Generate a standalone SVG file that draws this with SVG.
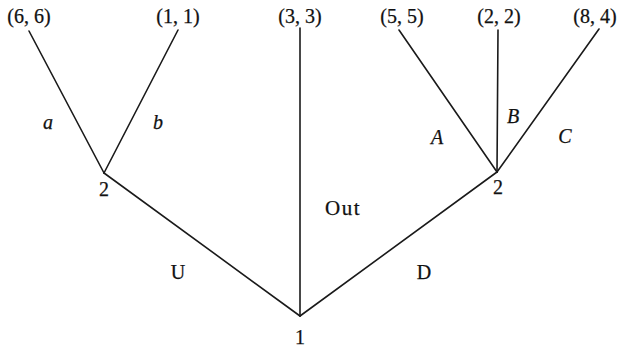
<svg xmlns="http://www.w3.org/2000/svg" width="621" height="355" viewBox="0 0 621 355">
<style>
.e{stroke:#1a1a1a;stroke-width:1.6;fill:none;stroke-linecap:round}
.t{font-family:"Liberation Serif","DejaVu Serif",serif;font-size:20px;fill:#111;text-anchor:middle;stroke:#111;stroke-width:0.25}
.i{font-style:italic}
</style>
<rect width="621" height="355" fill="#fff"/>
<g id="connectors">
<line class="e" x1="300" y1="316" x2="104" y2="173"/>
<line class="e" x1="300" y1="316" x2="300" y2="28"/>
<line class="e" x1="300" y1="316" x2="497" y2="172"/>
<line class="e" x1="104" y1="173" x2="29" y2="31"/>
<line class="e" x1="104" y1="173" x2="178" y2="30"/>
<line class="e" x1="497" y1="172" x2="399" y2="30"/>
<line class="e" x1="497" y1="172" x2="498" y2="30"/>
<line class="e" x1="497" y1="172" x2="599" y2="29"/>
<text class="t i" x="48" y="129">a</text>
<text class="t i" x="158" y="129">b</text>
<text class="t i" x="437" y="144">A</text>
<text class="t i" x="513" y="123">B</text>
<text class="t i" x="565" y="143">C</text>
<text class="t" x="343" y="215" style="font-size:21px;letter-spacing:1.5px">Out</text>
<text class="t" x="178" y="279">U</text>
<text class="t" x="424" y="279">D</text>
</g>
<g id="n1"><text class="t" x="300" y="344">1</text></g>
<g id="n2L"><text class="t" x="104" y="196">2</text></g>
<g id="n2R"><text class="t" x="498" y="194">2</text></g>
<g id="leaf66"><text class="t" x="29" y="23">(6,<tspan dx="5">6)</tspan></text></g>
<g id="leaf11"><text class="t" x="178" y="23">(1,<tspan dx="5">1)</tspan></text></g>
<g id="leaf33"><text class="t" x="300" y="23">(3,<tspan dx="5">3)</tspan></text></g>
<g id="leaf55"><text class="t" x="402" y="23">(5,<tspan dx="5">5)</tspan></text></g>
<g id="leaf22"><text class="t" x="499" y="23">(2,<tspan dx="5">2)</tspan></text></g>
<g id="leaf84"><text class="t" x="595" y="23">(8,<tspan dx="5">4)</tspan></text></g>
</svg>
